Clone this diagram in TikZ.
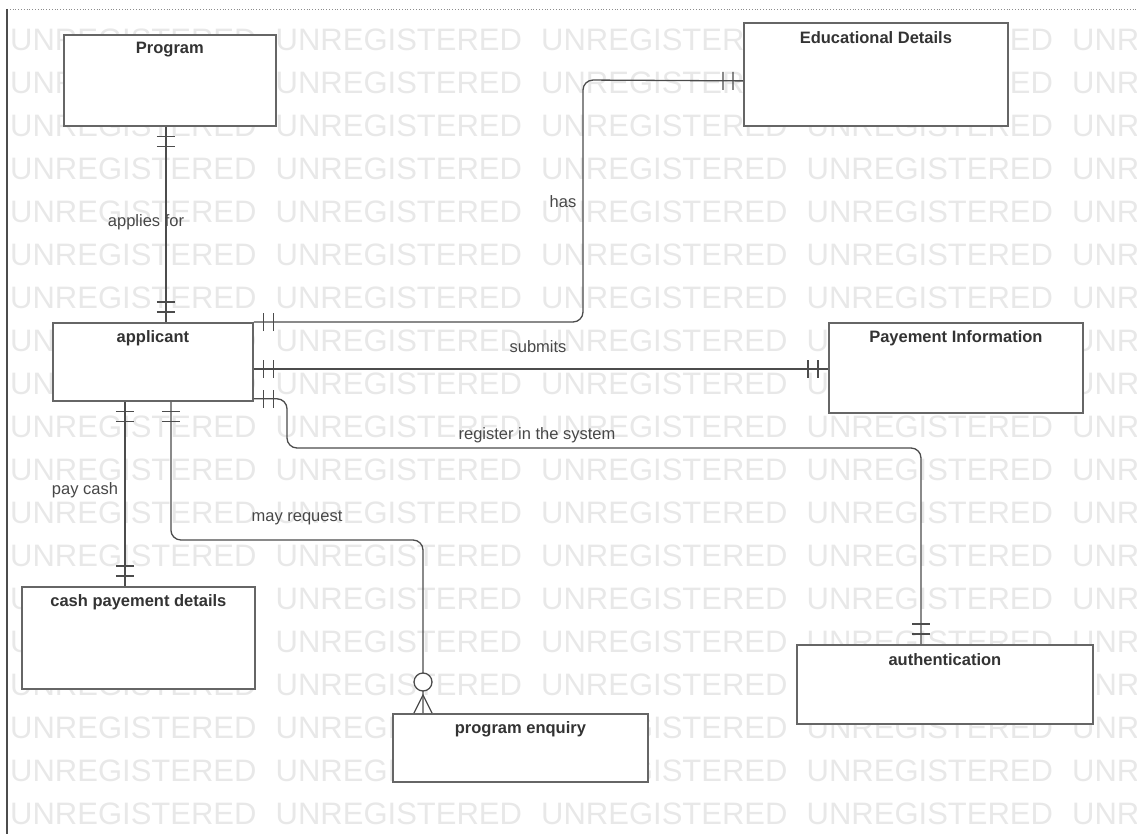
\documentclass[tikz,border=0pt]{standalone}
\usepackage{fontspec}
\setmainfont{Liberation Sans}
\usetikzlibrary{decorations.markings}

\tikzset{
  entity/.style={draw=black!60, line width=1.8pt, fill=white, anchor=north west, inner sep=0pt},
  title/.style={font=\fontsize{16.5}{18}\selectfont\bfseries, text=black!80, anchor=center, yshift=-16pt},
  rel/.style={draw=black!70, line width=1.3pt, rounded corners=10pt},
  lbl/.style={font=\fontsize{16.5}{18}\selectfont, text=black!72, inner sep=0pt},
  wm/.style={font=\fontsize{31}{31}\selectfont, text=black!9, anchor=west, inner sep=0pt},
  bar/.style={draw=black!70, line width=1.3pt, sharp corners},
  onestart/.style={postaction={decorate, decoration={markings,
    mark=at position 10pt with {\draw[bar] (0pt,-9pt) -- (0pt,9pt);},
    mark=at position 20pt with {\draw[bar] (0pt,-9pt) -- (0pt,9pt);}}}},
  oneend/.style={postaction={decorate, decoration={markings,
    mark=at position -10pt with {\draw[bar] (0pt,-9pt) -- (0pt,9pt);},
    mark=at position -20pt with {\draw[bar] (0pt,-9pt) -- (0pt,9pt);}}}},
  manyend/.style={postaction={decorate, decoration={markings,
    mark=at position -18pt with {\draw[bar] (18pt,-9pt) -- (0pt,0pt) -- (18pt,9pt);},
    mark=at position -31pt with {\draw[bar, fill=white] (0pt,0pt) circle (9pt);}}}}
}

\begin{document}
\begin{tikzpicture}[x=1pt, y=-1pt]
  \useasboundingbox (0,0) rectangle (1137,834);

  % watermark
  \begin{scope}
    \clip (0,0) rectangle (1137,834);
    \foreach \r in {0,...,18}
      \foreach \c in {0,...,4}
        \node[wm] at (10+265.5*\c, 40+43*\r) {UNREGISTERED};
  \end{scope}

  % frame
  \draw[dotted, black!45, line width=0.8pt] (7,9) -- (1137,9);
  \draw[black!70, line width=2pt] (7,9) -- (7,834);

  % entities
  \node[entity, minimum width=212pt, minimum height=91pt, label={[title]north:Program}] (program) at (63,34) {};
  \node[entity, minimum width=200pt, minimum height=78pt, label={[title]north:applicant}] (applicant) at (52,322) {};
  \node[entity, minimum width=264pt, minimum height=103pt, label={[title]north:Educational Details}] (edu) at (743,22) {};
  \node[entity, minimum width=254pt, minimum height=90pt, label={[title]north:Payement Information}] (pay) at (828,322) {};
  \node[entity, minimum width=233pt, minimum height=102pt, label={[title]north:cash payement details}] (cash) at (21,586) {};
  \node[entity, minimum width=255pt, minimum height=68pt, label={[title]north:program enquiry}] (enquiry) at (392,713) {};
  \node[entity, minimum width=296pt, minimum height=79pt, label={[title]north:authentication}] (auth) at (796,644) {};

  % bends
  \coordinate (hasbend) at (583,80);
  \coordinate (regA) at (287,448);
  \coordinate (regB) at (921,448);
  \coordinate (reqbend) at (423,540);

  % relations
  \draw[rel, onestart, oneend] ([xshift=-4pt]program.south) -- ([xshift=-4pt]program.south |- applicant.north);
  \draw[rel, onestart, oneend] (applicant.north east) -| (hasbend) -- ([yshift=-6.5pt]edu.west);
  \draw[rel, onestart, oneend] ([yshift=-7pt]applicant.east) -- ([yshift=-7pt]applicant.east -| pay.west);
  \draw[rel, onestart, oneend] ([yshift=3pt]applicant.south east) -| (regA) -- (regB) -- (regB |- auth.north);
  \draw[rel, onestart, oneend] ([xshift=-28pt]applicant.south) -- ([xshift=-28pt]applicant.south |- cash.north);
  \draw[rel, onestart, manyend] ([xshift=18pt]applicant.south) |- (reqbend) -- (reqbend |- enquiry.north);

  % labels
  \node[lbl] (applies) at (146,222) {applies for};
  \node[lbl] (has) at (563,202) {has};
  \node[lbl] (submits) at (538,347) {submits};
  \node[lbl] (register) at (537,435) {register in the system};
  \node[lbl] (paycash) at (85,490) {pay cash};
  \node[lbl] (request) at (297,518) {may request};
\end{tikzpicture}
\end{document}
